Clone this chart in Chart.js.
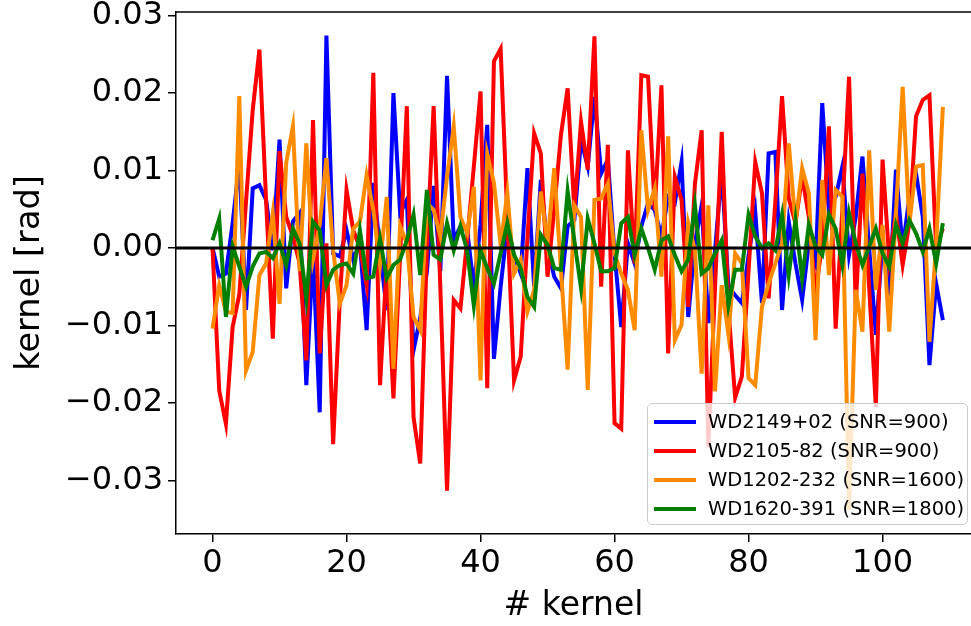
<!DOCTYPE html>
<html>
<head>
<meta charset="utf-8">
<script src="https://cdn.jsdelivr.net/npm/chart.js@4/dist/chart.umd.min.js"></script>
<style>
  html, body { margin: 0; padding: 0; background: #ffffff; overflow: hidden; }
  #wrap { position: relative; width: 971px; height: 626px; }
  #chart { position: absolute; left: 0; top: 0; }
  #legend {
    position: absolute; left: 647px; top: 403px; width: 321px; height: 122px;
    box-sizing: border-box; border: 1.5px solid #cccccc; border-radius: 5px;
    background: rgba(255,255,255,0.8);
    font-family: "DejaVu Sans", sans-serif; font-size: 19.5px; color: #000;
    padding-top: 3px;
  }
  .row { position: relative; height: 29px; }
  .swatch { position: absolute; left: 6px; top: 13px; width: 42px; height: 4px; }
  .label { position: absolute; left: 60px; top: 3px; line-height: 24px; white-space: nowrap; }
</style>
</head>
<body>
<div id="wrap">
  <canvas id="chart" width="971" height="626"></canvas>
  <div id="legend"></div>
</div>
<script>
// ---- data (kernel values in rad) ----
const kernelIndex = Array.from({length: 110}, (_, i) => i);

const seriesNames = [
  "WD2149+02 (SNR=900)",
  "WD2105-82 (SNR=900)",
  "WD1202-232 (SNR=1600)",
  "WD1620-391 (SNR=1800)"
];
const seriesColors = ["#0000ff", "#ff0000", "#ff8c00", "#008000"];

const wd2149 = [
  0.0000,-0.0037,-0.0033,0.0032,0.0110,-0.0080,0.0077,0.0081,0.0062,-0.0003,
  0.0140,-0.0052,0.0034,0.0045,-0.0177,-0.0007,-0.0212,0.0274,-0.0007,-0.0011,
  0.0023,-0.0015,0.0006,-0.0106,0.0084,-0.0003,-0.0080,0.0200,0.0045,0.0062,
  -0.0132,-0.0090,-0.0030,0.0080,-0.0030,0.0222,0.0010,0.0028,0.0023,-0.0050,
  0.0030,0.0159,-0.0143,-0.0050,0.0028,-0.0010,-0.0033,0.0103,-0.0050,0.0088,
  0.0000,-0.0037,-0.0052,0.0028,0.0036,0.0139,0.0105,0.0195,0.0096,0.0114,
  -0.0007,-0.0102,0.0006,-0.0020,0.0028,0.0058,0.0049,0.0015,0.0066,0.0058,
  0.0111,-0.0089,0.0006,0.0055,-0.0097,-0.0003,0.0101,-0.0050,-0.0061,-0.0071,
  -0.0010,0.0047,-0.0071,0.0122,0.0124,-0.0080,0.0034,-0.0020,-0.0067,0.0006,
  -0.0020,0.0187,0.0049,0.0066,0.0105,-0.0009,0.0040,0.0118,0.0000,-0.0112,
  0.0010,-0.0061,0.0101,0.0000,0.0065,0.0096,0.0040,-0.0151,-0.0046,-0.0093
];
const wd2105 = [
  0.0000,-0.0184,-0.0227,-0.0102,-0.0060,0.0060,0.0178,0.0256,0.0060,-0.0117,
  0.0125,0.0040,0.0015,-0.0020,-0.0145,0.0165,-0.0136,0.0006,-0.0253,-0.0067,
  0.0075,0.0023,0.0000,-0.0048,0.0226,-0.0177,-0.0020,-0.0194,-0.0010,0.0183,
  -0.0218,-0.0278,0.0000,0.0183,-0.0050,-0.0313,-0.0067,-0.0078,0.0010,0.0105,
  0.0202,-0.0181,0.0241,0.0257,0.0040,-0.0171,-0.0140,0.0013,0.0148,0.0122,
  -0.0037,0.0050,0.0146,0.0206,0.0049,0.0163,0.0101,0.0273,-0.0050,0.0133,
  -0.0226,-0.0233,0.0126,-0.0020,0.0223,0.0221,0.0049,0.0210,-0.0136,0.0092,
  0.0062,-0.0076,0.0083,0.0152,-0.0257,-0.0050,0.0150,-0.0080,-0.0193,-0.0166,
  -0.0030,0.0111,0.0071,-0.0065,0.0060,0.0196,0.0064,0.0032,0.0092,0.0040,
  -0.0058,0.0006,0.0157,-0.0104,0.0049,0.0221,-0.0074,0.0096,-0.0050,-0.0205,
  0.0114,-0.0015,0.0045,-0.0022,0.0032,0.0170,0.0191,0.0197,0.0000,0.0025
];
const wd1202 = [
  -0.0104,-0.0048,-0.0082,-0.0084,0.0196,-0.0158,-0.0134,-0.0035,-0.0020,0.0045,
  -0.0072,0.0110,0.0157,-0.0030,0.0135,-0.0015,0.0030,0.0116,-0.0003,-0.0072,
  -0.0048,0.0025,0.0034,0.0094,0.0049,-0.0022,0.0066,-0.0156,0.0028,0.0006,
  -0.0089,-0.0106,0.0058,0.0049,0.0015,0.0092,0.0157,0.0040,0.0019,0.0079,
  -0.0171,0.0122,0.0084,0.0004,0.0071,-0.0033,-0.0015,-0.0082,-0.0054,0.0073,
  0.0006,0.0103,-0.0028,-0.0157,0.0055,0.0040,-0.0183,0.0062,0.0064,0.0083,
  -0.0007,-0.0033,-0.0054,-0.0106,0.0152,0.0049,0.0077,-0.0037,0.0144,-0.0119,
  -0.0099,0.0032,-0.0003,-0.0162,0.0055,-0.0185,-0.0048,-0.0112,-0.0007,-0.0020,
  -0.0168,-0.0177,-0.0076,-0.0046,-0.0020,0.0006,0.0135,0.0032,0.0103,0.0071,
  -0.0119,0.0088,-0.0035,0.0075,0.0066,-0.0338,-0.0054,-0.0108,0.0126,-0.0054,
  0.0030,-0.0108,0.0045,0.0208,0.0032,0.0105,0.0107,-0.0121,0.0006,0.0182
];
const wd1620 = [
  0.0010,0.0038,-0.0089,0.0002,-0.0024,-0.0050,-0.0024,-0.0007,-0.0005,-0.0013,
  0.0006,-0.0022,0.0025,0.0006,-0.0065,0.0034,0.0023,-0.0048,-0.0028,-0.0022,
  -0.0020,-0.0033,0.0023,-0.0039,-0.0037,0.0012,-0.0039,-0.0022,-0.0015,0.0010,
  0.0043,-0.0035,0.0075,-0.0009,-0.0015,0.0032,-0.0003,0.0028,-0.0003,-0.0074,
  -0.0003,-0.0026,-0.0046,-0.0007,0.0032,-0.0009,-0.0026,-0.0063,-0.0076,0.0017,
  0.0004,-0.0026,-0.0028,0.0073,0.0010,-0.0052,0.0038,0.0006,-0.0030,-0.0030,
  -0.0026,0.0032,0.0040,-0.0009,0.0025,0.0000,-0.0028,0.0010,0.0015,-0.0009,
  -0.0030,-0.0015,0.0055,-0.0033,-0.0026,-0.0007,0.0010,-0.0074,-0.0028,-0.0028,
  0.0043,0.0015,0.0000,0.0006,-0.0003,0.0043,-0.0035,0.0036,-0.0039,0.0030,
  0.0002,-0.0009,0.0043,0.0025,-0.0022,0.0045,0.0006,-0.0022,0.0002,0.0025,
  -0.0007,-0.0024,0.0030,0.0006,0.0036,0.0019,-0.0005,0.0025,-0.0020,0.0032
];
const seriesValues = [wd2149, wd2105, wd1202, wd1620];

const xTicks = [0, 20, 40, 60, 80, 100];
const yTicks = [-0.03, -0.02, -0.01, 0.00, 0.01, 0.02, 0.03];
const zeroLevel = 0;

// ---- chart ----
const FONT = "'DejaVu Sans', sans-serif";

const datasets = seriesValues.map((vals, k) => ({
  label: seriesNames[k],
  data: vals,
  borderColor: seriesColors[k],
  backgroundColor: seriesColors[k],
  borderWidth: 4,
  pointRadius: 0,
  tension: 0,
  fill: false,
  order: seriesValues.length - k,
  borderJoinStyle: 'miter'
}));

const framePlugin = {
  id: 'frame',
  afterDatasetsDraw(chart) {
    const {ctx, chartArea, scales} = chart;
    ctx.save();
    const y0 = scales.y.getPixelForValue(zeroLevel);
    ctx.strokeStyle = '#000';
    ctx.lineWidth = 3;
    ctx.beginPath();
    ctx.moveTo(chartArea.left, y0);
    ctx.lineTo(chartArea.right, y0);
    ctx.stroke();
    ctx.lineWidth = 1.5;
    ctx.beginPath();
    ctx.moveTo(chartArea.left, chartArea.top);
    ctx.lineTo(chartArea.right, chartArea.top);
    ctx.stroke();
    ctx.restore();
  }
};

const fmtY = v => {
  const s = (Math.abs(v) < 1e-9 ? 0 : v).toFixed(2);
  return s.replace('-', '\u2212');
};

new Chart(document.getElementById('chart'), {
  type: 'line',
  data: { labels: kernelIndex, datasets },
  options: {
    responsive: false,
    animation: false,
    devicePixelRatio: 1,
    layout: { padding: { top: 12, left: 0, right: 0, bottom: 0 } },
    plugins: { legend: { display: false }, tooltip: { enabled: false } },
    scales: {
      x: {
        type: 'linear',
        min: -5.45,
        max: 113.2,
        afterBuildTicks: s => { s.ticks = xTicks.map(v => ({ value: v })); },
        afterFit: s => { s.height = 92; s.paddingLeft = 0; s.paddingRight = 0; },
        ticks: { color: '#000', font: { family: FONT, size: 32 }, padding: 2, maxRotation: 0, autoSkip: false, callback: v => String(v) },
        grid: { drawOnChartArea: false, drawTicks: true, tickLength: 8, color: '#000', lineWidth: 1.5 },
        border: { display: true, color: '#000', width: 1.5 },
        title: { display: true, text: '# kernel', color: '#000', font: { family: FONT, size: 33 }, padding: { top: 3, bottom: 0 } }
      },
      y: {
        type: 'linear',
        min: -0.0369,
        max: 0.03045,
        afterBuildTicks: s => { s.ticks = yTicks.map(v => ({ value: v })); },
        afterFit: s => { s.width = 176; s.paddingTop = 0; s.paddingBottom = 0; },
        ticks: { color: '#000', font: { family: FONT, size: 32 }, padding: 5, autoSkip: false, callback: v => fmtY(v) },
        grid: { drawOnChartArea: false, drawTicks: true, tickLength: 8, color: '#000', lineWidth: 1.5 },
        border: { display: true, color: '#000', width: 1.5 },
        title: { display: true, text: 'kernel [rad]', color: '#000', font: { family: FONT, size: 33.5 }, padding: { top: 10, bottom: 0 } }
      }
    }
  },
  plugins: [framePlugin]
});

// ---- legend (HTML, built from the series arrays) ----
const legendEl = document.getElementById('legend');
seriesNames.forEach((name, k) => {
  const row = document.createElement('div');
  row.className = 'row';
  const sw = document.createElement('div');
  sw.className = 'swatch';
  sw.style.background = seriesColors[k];
  const lb = document.createElement('div');
  lb.className = 'label';
  lb.textContent = name;
  row.appendChild(sw);
  row.appendChild(lb);
  legendEl.appendChild(row);
});
</script>
</body>
</html>
